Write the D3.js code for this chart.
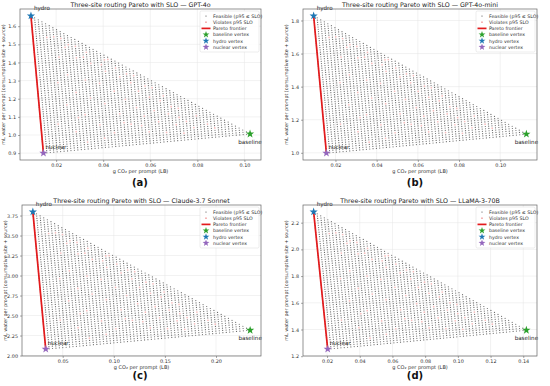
<!DOCTYPE html>
<html><head><meta charset="utf-8">
<script src="https://cdn.jsdelivr.net/npm/d3@7"></script>
<style>body{margin:0;background:#fff}svg{display:block}text{font-family:"DejaVu Sans",sans-serif}</style>
</head><body><svg id="c" width="550" height="386"></svg>
<script>
// ---- data ----
const panelModels = ["GPT-4o", "GPT-4o-mini", "Claude-3.7 Sonnet", "LLaMA-3-70B"];
const panelLetters = ["(a)", "(b)", "(c)", "(d)"];
const baselineX = [0.1024, 0.1127, 0.2334, 0.1419];
const baselineY = [1.006, 1.113, 2.317, 1.395];
const hydroX = [0.0093, 0.0094, 0.0208, 0.0118];
const hydroY = [1.657, 1.828, 3.796, 2.281];
const nuclearX = [0.0146, 0.0156, 0.0334, 0.0204];
const nuclearY = [0.900, 0.998, 2.080, 1.253];
const xTicks = [[0.02,0.04,0.06,0.08,0.10],[0.02,0.04,0.06,0.08,0.10],[0.05,0.10,0.15,0.20],[0.02,0.04,0.06,0.08,0.10,0.12,0.14]];
const xTickLabels = [["0.02","0.04","0.06","0.08","0.10"],["0.02","0.04","0.06","0.08","0.10"],["0.05","0.10","0.15","0.20"],["0.02","0.04","0.06","0.08","0.10","0.12","0.14"]];
const yTicks = [[0.9,1.0,1.1,1.2,1.3,1.4,1.5,1.6],[1.0,1.2,1.4,1.6,1.8],[2.00,2.25,2.50,2.75,3.00,3.25,3.50,3.75],[1.2,1.4,1.6,1.8,2.0,2.2]];
const yTickLabels = [["0.9","1.0","1.1","1.2","1.3","1.4","1.5","1.6"],["1.0","1.2","1.4","1.6","1.8"],["2.00","2.25","2.50","2.75","3.00","3.25","3.50","3.75"],["1.2","1.4","1.6","1.8","2.0","2.2"]];
const gridSteps = 60; // routing-weight grid resolution
// grid cells (baseline step i, hydro step j) whose p95 latency violates the SLO
const violating = [[5,12],[6,30],[7,41],[8,20],[9,33],[10,8],[11,25],[12,40],[13,15],[14,30],[15,22],[16,37],[17,10],[18,28],[19,19],[20,33],[21,6],[22,24],[23,14],[24,30],[25,20],[26,9],[27,27],[28,16],[29,23],[30,12],[31,5],[32,20],[33,14],[34,9],[35,18],[36,4],[37,12],[38,15],[39,7],[40,10],[41,3],[42,8],[44,5],[9,45],[14,40],[19,36],[24,10],[29,8],[11,14],[17,44],[21,38],[26,31],[31,25],[4,50],[13,3],[18,4],[6,50],[10,46],[15,42],[20,38],[23,34],[28,30],[33,24],[36,20],[40,14],[45,10],[48,6],[50,4],[8,49],[12,45]];

// ---- layout ----
const frames = [
  {l:20, r:261, t:9,   b:160, ox:0,   oy:0},
  {l:303,r:537, t:9,   b:160, ox:275, oy:0},
  {l:22, r:261, t:205, b:356, ox:0,   oy:193},
  {l:303,r:537, t:205, b:356, ox:275, oy:193}
];
const svg = d3.select("#c");

function pad(lo, hi){ const d=(hi-lo)*0.05; return [lo-d, hi+d]; }

function star(cx, cy, R){
  const r = R*0.4, pts=[];
  for(let k=0;k<10;k++){
    const a = -Math.PI/2 + k*Math.PI/5, rr = k%2===0?R:r;
    pts.push([cx+rr*Math.cos(a), cy+rr*Math.sin(a)]);
  }
  return "M"+pts.map(p=>p.join(",")).join("L")+"Z";
}

panelModels.forEach((model, p) => {
  const f = frames[p];
  const xs = [baselineX[p], hydroX[p], nuclearX[p]];
  const ys = [baselineY[p], hydroY[p], nuclearY[p]];
  const x = d3.scaleLinear().domain(pad(d3.min(xs), d3.max(xs))).range([f.l, f.r]);
  const y = d3.scaleLinear().domain(pad(d3.min(ys), d3.max(ys))).range([f.b, f.t]);
  const g = svg.append("g");

  // grid
  g.append("g").selectAll("line").data(xTicks[p]).join("line")
    .attr("x1", d=>x(d)).attr("x2", d=>x(d)).attr("y1", f.t).attr("y2", f.b)
    .attr("stroke", "#e4e4e4").attr("stroke-width", 0.5);
  g.append("g").selectAll("line").data(yTicks[p]).join("line")
    .attr("y1", d=>y(d)).attr("y2", d=>y(d)).attr("x1", f.l).attr("x2", f.r)
    .attr("stroke", "#e4e4e4").attr("stroke-width", 0.5);

  // points
  const vset = new Set(violating.map(v=>v[0]+"_"+v[1]));
  const pts = [];
  for(let i=0;i<=gridSteps;i++){
    for(let j=0;j<=gridSteps-i;j++){
      const wb=i/gridSteps, wh=j/gridSteps, wn=1-wb-wh;
      pts.push({
        x: wb*baselineX[p]+wh*hydroX[p]+wn*nuclearX[p],
        y: wb*baselineY[p]+wh*hydroY[p]+wn*nuclearY[p],
        v: vset.has(i+"_"+j)
      });
    }
  }
  g.append("g").selectAll("circle").data(pts.filter(d=>!d.v)).join("circle")
    .attr("cx", d=>x(d.x)).attr("cy", d=>y(d.y)).attr("r", 0.6)
    .attr("fill", "#444").attr("fill-opacity", 0.8);
  g.append("g").selectAll("circle").data(pts.filter(d=>d.v)).join("circle")
    .attr("cx", d=>x(d.x)).attr("cy", d=>y(d.y)).attr("r", 0.85)
    .attr("fill", "#f2a0a0").attr("fill-opacity", 0.7);

  // pareto frontier
  g.append("path")
    .attr("d", d3.line()([[x(hydroX[p]), y(hydroY[p])],[x(nuclearX[p]), y(nuclearY[p])]]))
    .attr("stroke", "#e31a1c").attr("stroke-width", 1.7).attr("fill", "none");

  // vertex stars
  const vtx = [
    {x:baselineX[p], y:baselineY[p], c:"#2ca02c"},
    {x:hydroX[p], y:hydroY[p], c:"#1f77b4"},
    {x:nuclearX[p], y:nuclearY[p], c:"#9467bd"}
  ];
  g.selectAll(".st").data(vtx).join("path")
    .attr("d", d=>star(x(d.x), y(d.y), 4.3)).attr("fill", d=>d.c);

  // vertex labels
  const lab = g.append("g").attr("font-size", 5.6).attr("fill", "#222");
  lab.append("text").attr("x", x(hydroX[p])+3).attr("y", y(hydroY[p])-6).text("hydro");
  lab.append("text").attr("x", x(nuclearX[p])+2).attr("y", y(nuclearY[p])-4).text("nuclear");
  lab.append("text").attr("x", x(baselineX[p])).attr("y", y(baselineY[p])+10)
    .attr("text-anchor","middle").text("baseline");

  // frame
  g.append("rect").attr("x", f.l).attr("y", f.t).attr("width", f.r-f.l).attr("height", f.b-f.t)
    .attr("fill", "none").attr("stroke", "#666").attr("stroke-width", 0.7);

  // axes
  const xa = g.append("g").attr("transform", `translate(0,${f.b})`)
    .call(d3.axisBottom(x).tickValues(xTicks[p]).tickFormat((d,k)=>xTickLabels[p][k]).tickSize(2).tickPadding(2));
  const ya = g.append("g").attr("transform", `translate(${f.l},0)`)
    .call(d3.axisLeft(y).tickValues(yTicks[p]).tickFormat((d,k)=>yTickLabels[p][k]).tickSize(2).tickPadding(2));
  [xa, ya].forEach(a => {
    a.select(".domain").remove();
    a.selectAll("line").attr("stroke", "#555").attr("stroke-width", 0.5);
    a.selectAll("text").attr("font-size", 4.9).attr("fill", "#333").attr("font-family", "DejaVu Sans");
  });

  // title and labels
  g.append("text").attr("x", (f.l+f.r)/2).attr("y", f.t-2.5).attr("text-anchor","middle")
    .attr("font-size", 6.3).attr("fill", "#222").text("Three-site routing Pareto with SLO \u2014 " + model);
  g.append("text").attr("x", (f.l+f.r)/2).attr("y", f.b+13).attr("text-anchor","middle")
    .attr("font-size", 5).attr("fill", "#333").text("g CO\u2082 per prompt (LB)");
  g.append("text").attr("transform", `translate(${f.l-15},${(f.t+f.b)/2}) rotate(-90)`)
    .attr("text-anchor","middle").attr("font-size", 4.8).attr("fill", "#333")
    .text("mL water per prompt (consumptive site + source)");
  g.append("text").attr("x", f.ox + 140).attr("y", f.oy + 186).attr("text-anchor","middle")
    .attr("font-family", "Liberation Serif, serif").attr("font-weight","bold").attr("font-size", 10)
    .attr("fill", "#111").text(panelLetters[p]);

  // legend
  const lg = g.append("g").attr("transform", `translate(${f.r-61},${f.t+2})`);
  lg.append("rect").attr("width", 59).attr("height", 41).attr("rx", 1.5)
    .attr("fill", "#fff").attr("fill-opacity", 0.85).attr("stroke", "#d8d8d8").attr("stroke-width", 0.5);
  const items = ["Feasible (p95 \u2264 SLO)", "Violates p95 SLO", "Pareto frontier", "baseline vertex", "hydro vertex", "nuclear vertex"];
  items.forEach((t, k) => {
    const yy = 5 + k*6.2, mx = 6;
    if(k===0) lg.append("circle").attr("cx", mx).attr("cy", yy).attr("r", 0.6).attr("fill", "#444");
    if(k===1) lg.append("circle").attr("cx", mx).attr("cy", yy).attr("r", 0.85).attr("fill", "#f2a0a0");
    if(k===2) lg.append("line").attr("x1", 1.5).attr("x2", 10.5).attr("y1", yy).attr("y2", yy).attr("stroke", "#e31a1c").attr("stroke-width", 1.7);
    if(k>=3) lg.append("path").attr("d", star(mx, yy, 3.6)).attr("fill", ["#2ca02c","#1f77b4","#9467bd"][k-3]);
    lg.append("text").attr("x", 13).attr("y", yy+1.7).attr("font-size", 4.7).attr("fill", "#333").text(t);
  });
});
</script></body></html>
